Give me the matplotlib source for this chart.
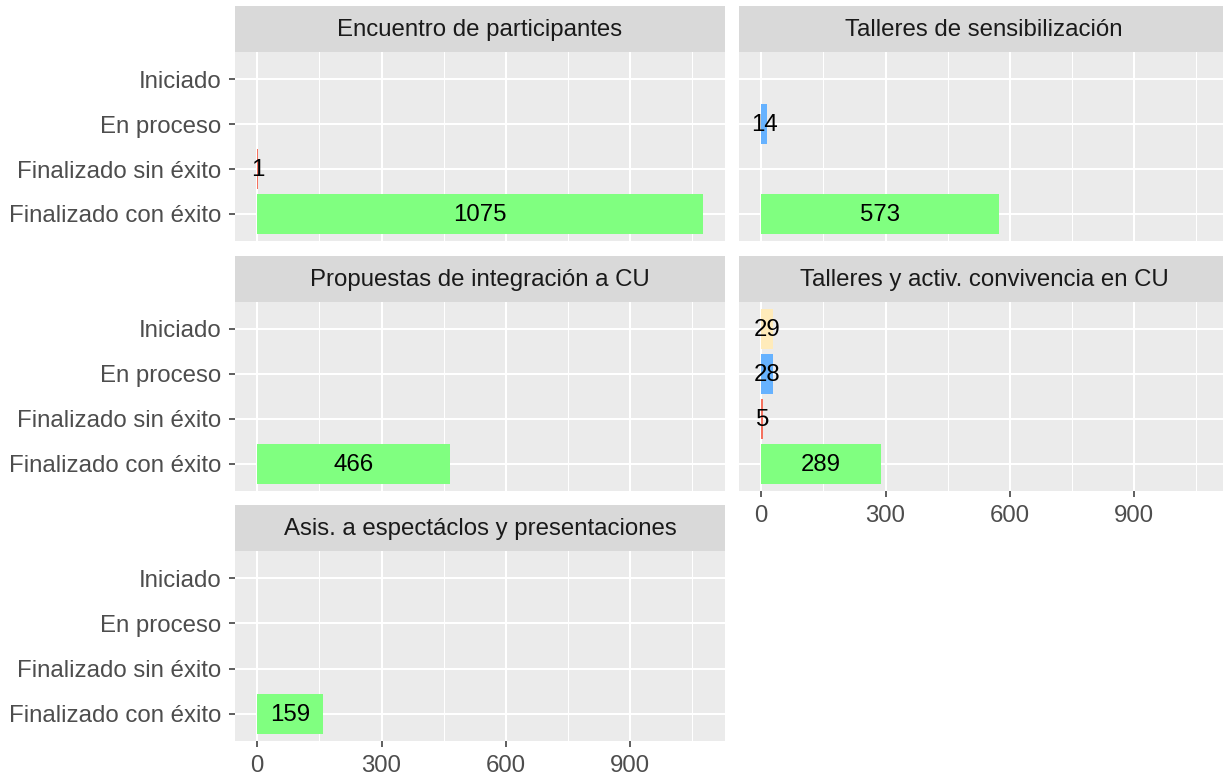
import matplotlib
matplotlib.use("Agg")
import matplotlib.pyplot as plt
from matplotlib.ticker import MultipleLocator

plt.rcParams['font.family'] = ['Liberation Sans', 'DejaVu Sans']

# ---- data ----
categories = ["Finalizado con éxito", "Finalizado sin éxito", "En proceso", "Iniciado"]
facets = ["Encuentro de participantes", "Talleres de sensibilización",
          "Propuestas de integración a CU", "Talleres y activ. convivencia en CU",
          "Asis. a espectáclos y presentaciones"]
encuentro = [1075, 1, 0, 0]
sensibilizacion = [573, 0, 14, 0]
propuestas = [466, 0, 0, 0]
convivencia = [289, 5, 28, 29]
espectaculos = [159, 0, 0, 0]
values = [encuentro, sensibilizacion, propuestas, convivencia, espectaculos]
colors = ["#80FF80", "#F5715E", "#66B2FF", "#FFEBBA"]
xticks = [0, 300, 600, 900]

W, H = 1223, 778
fig = plt.figure(figsize=(W / 100, H / 100), dpi=100)

cols_px = [235, 739]
panel_w = 490
rows_px = [(6, 52, 241), (256, 302, 491), (505, 551, 741)]
FS = 17.3

xmax = max(max(v) for v in values)
xlim = (-0.05 * xmax, 1.05 * xmax)

def px_rect(x0, y0, x1, y1):
    return [x0 / W, 1 - y1 / H, (x1 - x0) / W, (y1 - y0) / H]

for i, (name, vals) in enumerate(zip(facets, values)):
    r, c = divmod(i, 2)
    st, pt, pb = rows_px[r]
    x0 = cols_px[c]
    # strip
    sax = fig.add_axes(px_rect(x0, st, x0 + panel_w, pt))
    sax.set_facecolor("#D9D9D9")
    sax.set_xticks([]); sax.set_yticks([])
    for s in sax.spines.values():
        s.set_visible(False)
    sax.text(0.5, 0.47, name, ha="center", va="center",
             fontsize=FS, color="#1A1A1A", transform=sax.transAxes)
    # panel
    ax = fig.add_axes(px_rect(x0, pt, x0 + panel_w, pb))
    ax.set_facecolor("#EBEBEB")
    for s in ax.spines.values():
        s.set_visible(False)
    ax.set_xlim(*xlim)
    ax.set_ylim(-0.6, len(categories) - 0.4)
    ax.set_axisbelow(True)
    ax.xaxis.set_major_locator(MultipleLocator(300))
    ax.xaxis.set_minor_locator(MultipleLocator(150))
    ax.set_yticks(range(len(categories)))
    ax.grid(which="major", color="white", linewidth=1.5)
    ax.grid(which="minor", axis="x", color="white", linewidth=0.75)
    ax.tick_params(which="minor", length=0)
    for j, v in enumerate(vals):
        if v > 0:
            ax.barh(j, v, height=0.9, color=colors[j], zorder=2)
            ax.text(v / 2, j - 0.03, str(v), ha="center", va="center", fontsize=FS,
                    color="black", zorder=3)
    ax.tick_params(axis="both", which="major", color="#333333", width=1.1,
                   length=4.5, labelsize=FS, labelcolor="#4D4D4D", pad=5.5)
    if c == 0:
        ax.set_yticklabels(categories)
    else:
        ax.tick_params(axis="y", which="major", length=0, labelleft=False)
    show_x = (i == 3 or i == 4)
    if show_x:
        ax.set_xticks(xticks)
        ax.set_xticklabels([str(t) for t in xticks])
    else:
        ax.tick_params(axis="x", which="major", length=0, labelbottom=False)

fig.savefig("out.png", dpi=100, facecolor="white")
